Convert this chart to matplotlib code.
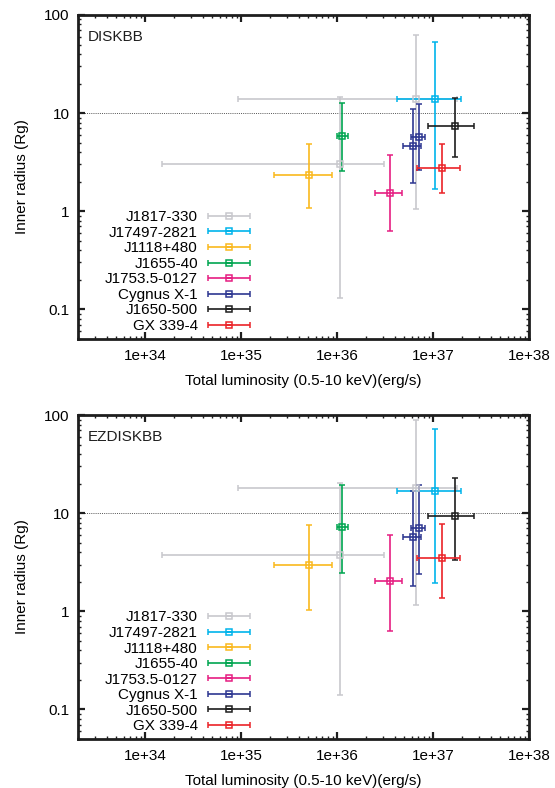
import matplotlib
matplotlib.use("Agg")
import matplotlib.pyplot as plt
from matplotlib.legend_handler import HandlerErrorbar
from matplotlib.ticker import FixedLocator, FuncFormatter, LogLocator, NullFormatter
from matplotlib.container import ErrorbarContainer
import numpy as np

plt.rcParams["font.family"] = ["Liberation Sans", "DejaVu Sans"]

sources = ["J1817-330", "J17497-2821", "J1118+480", "J1655-40",
           "J1753.5-0127", "Cygnus X-1", "J1650-500", "GX 339-4"]
colors = ["#c8c8cd", "#00b4eb", "#fab91e", "#00a550",
          "#e61e82", "#2d3791", "#1e1e1e", "#eb2328"]

# luminosity (erg/s): value, lower bound, upper bound (same in both panels)
lum = {
    "J1817-330":    [6.6e36, 1.07e36],
    "J17497-2821":  [1.05e37],
    "J1118+480":    [5.1e35],
    "J1655-40":     [1.14e36],
    "J1753.5-0127": [3.55e36],
    "Cygnus X-1":   [6.17e36, 7.08e36],
    "J1650-500":    [1.68e37],
    "GX 339-4":     [1.24e37],
}
lum_lo = {
    "J1817-330":    [9.3e34, 1.5e34],
    "J17497-2821":  [4.2e36],
    "J1118+480":    [2.2e35],
    "J1655-40":     [9.9e35],
    "J1753.5-0127": [2.48e36],
    "Cygnus X-1":   [4.86e36, 5.97e36],
    "J1650-500":    [8.8e36],
    "GX 339-4":     [6.86e36],
}
lum_hi = {
    "J1817-330":    [1.8e37, 3.1e36],
    "J17497-2821":  [1.95e37],
    "J1118+480":    [8.8e35],
    "J1655-40":     [1.31e36],
    "J1753.5-0127": [4.75e36],
    "Cygnus X-1":   [7.5e36, 8.3e36],
    "J1650-500":    [2.67e37],
    "GX 339-4":     [1.9e37],
}

# inner radius (Rg), DISKBB
rin_diskbb = {
    "J1817-330":    [13.9, 3.0],
    "J17497-2821":  [14.0],
    "J1118+480":    [2.33],
    "J1655-40":     [5.9],
    "J1753.5-0127": [1.53],
    "Cygnus X-1":   [4.65, 5.65],
    "J1650-500":    [7.3],
    "GX 339-4":     [2.75],
}
rin_diskbb_lo = {
    "J1817-330":    [1.05, 0.13],
    "J17497-2821":  [1.67],
    "J1118+480":    [1.08],
    "J1655-40":     [2.56],
    "J1753.5-0127": [0.635],
    "Cygnus X-1":   [1.93, 2.64],
    "J1650-500":    [3.6],
    "GX 339-4":     [1.52],
}
rin_diskbb_hi = {
    "J1817-330":    [62.0, 14.7],
    "J17497-2821":  [53.5],
    "J1118+480":    [4.83],
    "J1655-40":     [12.6],
    "J1753.5-0127": [3.78],
    "Cygnus X-1":   [10.9, 12.4],
    "J1650-500":    [14.3],
    "GX 339-4":     [4.83],
}

# inner radius (Rg), EZDISKBB
rin_ez = {
    "J1817-330":    [17.9, 3.73],
    "J17497-2821":  [17.0],
    "J1118+480":    [2.97],
    "J1655-40":     [7.3],
    "J1753.5-0127": [2.02],
    "Cygnus X-1":   [5.78, 7.03],
    "J1650-500":    [9.4],
    "GX 339-4":     [3.53],
}
rin_ez_lo = {
    "J1817-330":    [1.16, 0.14],
    "J17497-2821":  [1.95],
    "J1118+480":    [1.02],
    "J1655-40":     [2.44],
    "J1753.5-0127": [0.635],
    "Cygnus X-1":   [1.81, 2.4],
    "J1650-500":    [3.34],
    "GX 339-4":     [1.37],
}
rin_ez_hi = {
    "J1817-330":    [89.0, 20.4],
    "J17497-2821":  [73.0],
    "J1118+480":    [7.5],
    "J1655-40":     [19.3],
    "J1753.5-0127": [6.05],
    "Cygnus X-1":   [16.7, 19.6],
    "J1650-500":    [22.8],
    "GX 339-4":     [7.85],
}

x_ticks = [1e34, 1e35, 1e36, 1e37, 1e38]
y_ticks = [0.1, 1, 10, 100]


def draw_panel(ax, rin, rin_lo, rin_hi, title):
    handles = []
    for name, c in zip(sources, colors):
        x = np.array(lum[name])
        y = np.array(rin[name])
        xerr = [x - np.array(lum_lo[name]), np.array(lum_hi[name]) - x]
        yerr = [y - np.array(rin_lo[name]), np.array(rin_hi[name]) - y]
        h = ax.errorbar(x, y, xerr=xerr, yerr=yerr, fmt="s", color=c,
                        mfc="none", mec=c, ms=5, mew=1.1, elinewidth=1.2,
                        capsize=2.2, capthick=1.2, label=name)
        handles.append(h)
    ax.axhline(10, color="#555555", lw=0.7, ls=(0, (1, 1.2)), zorder=0)

    ax.set_xscale("log")
    ax.set_yscale("log")
    ax.set_xlim(2e33, 1e38)
    ax.set_ylim(0.05, 100)
    ax.xaxis.set_major_locator(FixedLocator(x_ticks))
    ax.xaxis.set_major_formatter(FuncFormatter(lambda v, p: "1e+%d" % round(np.log10(v))))
    ax.xaxis.set_minor_locator(LogLocator(base=10, subs=np.arange(2, 10)))
    ax.xaxis.set_minor_formatter(NullFormatter())
    ax.yaxis.set_major_locator(FixedLocator(y_ticks))
    ax.yaxis.set_major_formatter(FuncFormatter(lambda v, p: "%g" % v))
    ax.yaxis.set_minor_locator(LogLocator(base=10, subs=np.arange(2, 10)))
    ax.yaxis.set_minor_formatter(NullFormatter())
    ax.tick_params(which="both", direction="in", top=True, right=True,
                   labelsize=11, color="#1e1e1e")
    ax.tick_params(which="major", length=5, width=1.6)
    ax.tick_params(which="minor", length=2.5, width=1.0)
    ax.tick_params(axis="x", pad=7)
    ax.tick_params(axis="y", pad=6)
    for s in ax.spines.values():
        s.set_linewidth(2.0)
        s.set_color("#1e1e1e")

    ax.set_xlabel("Total luminosity (0.5-10 keV)(erg/s)", fontsize=11, labelpad=8)
    ax.set_ylabel("Inner radius (Rg)", fontsize=11, labelpad=11)
    ax.text(0.022, 0.932, title, transform=ax.transAxes, fontsize=11,
            ha="left", va="center", color="#1e1e1e")

    leg = ax.legend(handles=handles, loc="lower right", bbox_to_anchor=(0.381, 0.018),
                    frameon=False, markerfirst=False, fontsize=11,
                    handlelength=2.75, handletextpad=0.65, labelspacing=0.1,
                    borderpad=0, borderaxespad=0, numpoints=1,
                    handler_map={ErrorbarContainer: HandlerErrorbar(xerr_size=1.375, yerr_size=0)})
    return leg


fig = plt.figure(figsize=(5.55, 7.88), dpi=100)
ax1 = fig.add_axes([0.1405, 0.570, 0.8126, 0.411])
ax2 = fig.add_axes([0.1405, 0.0622, 0.8126, 0.411])
draw_panel(ax1, rin_diskbb, rin_diskbb_lo, rin_diskbb_hi, "DISKBB")
draw_panel(ax2, rin_ez, rin_ez_lo, rin_ez_hi, "EZDISKBB")

fig.savefig("out.png", dpi=100)
